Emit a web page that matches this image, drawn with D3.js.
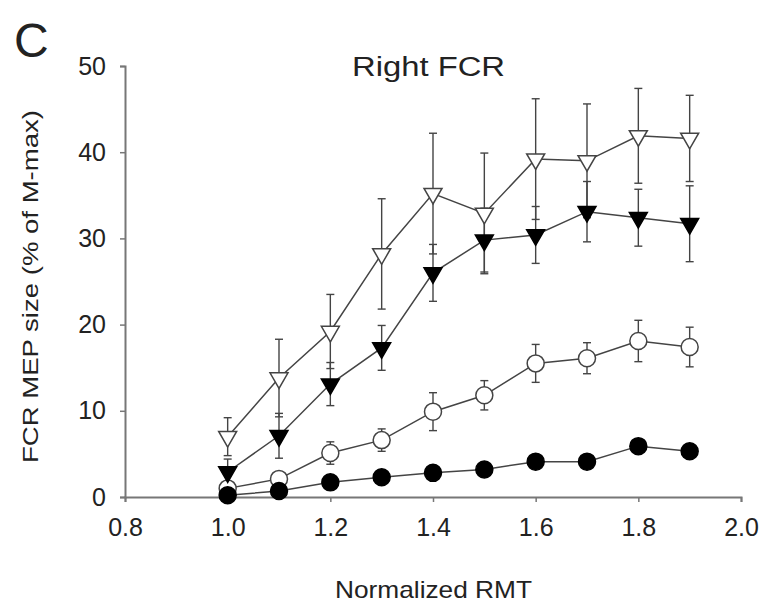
<!DOCTYPE html>
<html>
<head>
<meta charset="utf-8">
<script src="https://cdn.jsdelivr.net/npm/d3@7"></script>
<style>
  body { margin: 0; background: #fff; }
  text { font-family: "Liberation Sans", Arial, sans-serif; fill: #222; }
</style>
</head>
<body>
<div id="chart"></div>
<script>
let rmt = [1.0, 1.1, 1.2, 1.3, 1.4, 1.5, 1.6, 1.7, 1.8, 1.9];

let openTri = [7.0, 13.8, 19.2, 28.2, 35.2, 32.9, 39.2, 39.0, 41.9, 41.6];
let openTriErr = [2.2, 4.5, 4.3, 6.4, 7.0, 7.0, 7.0, 6.6, 5.5, 5.0];

let filledTri = [2.9, 7.1, 13.1, 17.3, 26.0, 29.8, 30.4, 33.1, 32.4, 31.7];
let filledTriErr = [1.5, 2.6, 2.5, 2.6, 3.3, 3.7, 3.3, 3.5, 3.3, 4.4];

let openCirc = [1.0, 2.1, 5.1, 6.6, 9.9, 11.8, 15.5, 16.1, 18.1, 17.4];
let openCircErr = [0.6, 0.8, 1.3, 1.3, 2.2, 1.7, 2.2, 1.8, 2.4, 2.3];

let filledCirc = [0.2, 0.7, 1.7, 2.3, 2.8, 3.2, 4.1, 4.1, 5.9, 5.3];
let filledCircErr = [0.2, 0.3, 0.4, 0.4, 0.4, 0.4, 0.5, 0.5, 0.5, 0.5];

let xTicks = [0.8, 1.0, 1.2, 1.4, 1.6, 1.8, 2.0];
let yTicks = [0, 10, 20, 30, 40, 50];

let width = 771, height = 607;
let margin = {top: 66, right: 30, bottom: 110, left: 125};

let x = d3.scaleLinear().domain([0.8, 2.0]).range([margin.left, 741]);
let y = d3.scaleLinear().domain([0, 50]).range([497, margin.top]);

let svg = d3.select("#chart").append("svg")
    .attr("width", width)
    .attr("height", height);

let axisColor = "#777";
let lineColor = "#444";

// axes
let gx = svg.append("g")
    .attr("transform", "translate(0," + y(0) + ")")
    .call(d3.axisBottom(x).tickValues(xTicks).tickFormat(d3.format(".1f")).tickSize(5).tickPadding(16));
let gy = svg.append("g")
    .attr("transform", "translate(" + x(0.8) + ",0)")
    .call(d3.axisLeft(y).tickValues(yTicks).tickSize(5).tickPadding(14));

[gx, gy].forEach(function(g) {
    g.select(".domain").attr("stroke", axisColor).attr("stroke-width", 2);
    g.selectAll(".tick line").attr("stroke", axisColor).attr("stroke-width", 1.5);
    g.selectAll(".tick text").style("font-size", "25px").style("font-family", "Liberation Sans, Arial, sans-serif").attr("fill", "#2a2a2a");
});

// series
let series = [
    {vals: openCirc, err: openCircErr, shape: "circle", fill: "#fff"},
    {vals: filledCirc, err: filledCircErr, shape: "circle", fill: "#000"},
    {vals: filledTri, err: filledTriErr, shape: "tri", fill: "#000"},
    {vals: openTri, err: openTriErr, shape: "tri", fill: "#fff"}
];

let line = d3.line()
    .x(function(d, i) { return x(rmt[i]); })
    .y(function(d) { return y(d); });

let capW = 4;

// error bars first, then lines, then markers
series.forEach(function(s) {
    let g = svg.append("g");
    s.vals.forEach(function(v, i) {
        let cx = x(rmt[i]);
        let top = y(v + s.err[i]), bot = y(v - s.err[i]);
        g.append("line").attr("x1", cx).attr("x2", cx).attr("y1", top).attr("y2", bot)
            .attr("stroke", lineColor).attr("stroke-width", 1.4);
        [top, bot].forEach(function(yy) {
            g.append("line").attr("x1", cx - capW).attr("x2", cx + capW).attr("y1", yy).attr("y2", yy)
                .attr("stroke", lineColor).attr("stroke-width", 1.4);
        });
    });
});

series.forEach(function(s) {
    svg.append("path")
        .datum(s.vals)
        .attr("d", line)
        .attr("fill", "none")
        .attr("stroke", lineColor)
        .attr("stroke-width", 1.5);
});

let triSym = d3.symbol().type(d3.symbolTriangle).size(140);

series.forEach(function(s) {
    let g = svg.append("g");
    if (s.shape === "circle") {
        g.selectAll("circle")
            .data(s.vals)
            .enter().append("circle")
            .attr("cx", function(d, i) { return x(rmt[i]); })
            .attr("cy", function(d) { return y(d); })
            .attr("r", 8.5)
            .attr("fill", s.fill)
            .attr("stroke", s.fill === "#fff" ? lineColor : "#000")
            .attr("stroke-width", 1.5);
    } else {
        g.selectAll("path")
            .data(s.vals)
            .enter().append("path")
            .attr("d", triSym)
            .attr("transform", function(d, i) { return "translate(" + x(rmt[i]) + "," + y(d) + ") rotate(180)"; })
            .attr("fill", s.fill)
            .attr("stroke", s.fill === "#fff" ? lineColor : "#000")
            .attr("stroke-width", 1.5);
    }
});

// labels
svg.append("text")
    .attr("x", 14).attr("y", 57)
    .style("font-size", "48px")
    .text("C");

svg.append("text")
    .attr("x", 352).attr("y", 76)
    .attr("textLength", 153)
    .attr("lengthAdjust", "spacingAndGlyphs")
    .style("font-size", "27px")
    .text("Right FCR");

svg.append("text")
    .attr("x", 335).attr("y", 598)
    .attr("textLength", 197)
    .attr("lengthAdjust", "spacingAndGlyphs")
    .style("font-size", "24px")
    .text("Normalized RMT");

svg.append("text")
    .attr("transform", "translate(38,463) rotate(-90)")
    .attr("textLength", 353)
    .attr("lengthAdjust", "spacingAndGlyphs")
    .style("font-size", "22px")
    .text("FCR MEP size (% of M-max)");
</script>
</body>
</html>
